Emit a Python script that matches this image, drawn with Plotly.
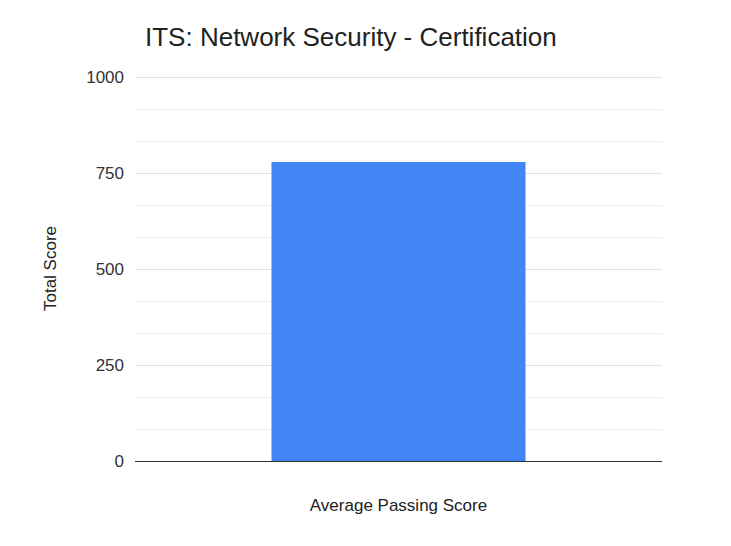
import plotly.graph_objects as go

categories = ["Average Passing Score"]
scores = [780]
y_ticks = [0, 250, 500, 750, 1000]

fig = go.Figure(go.Bar(x=categories, y=scores, marker=dict(color="#4285F4", line=dict(width=0))))

fig.update_layout(
    width=731, height=546,
    margin=dict(l=127, r=77, t=67.5, b=93, autoexpand=False),
    paper_bgcolor="white", plot_bgcolor="white",
    bargap=0.518,
    showlegend=False,
    font=dict(family="Liberation Sans, Arial, sans-serif", size=17, color="#444"),
    title=dict(text="ITS: Network Security - Certification", x=137/731, xanchor="left",
               y=1-29/546, yanchor="middle",
               font=dict(size=26, color="#222", family="Liberation Sans, Arial, sans-serif")),
)
fig.update_xaxes(showgrid=False, showline=False, ticks="", ticklabelstandoff=32,
                 tickfont=dict(size=17, color="#222"), automargin=False)
fig.update_yaxes(range=[0, 1004], tickvals=y_ticks, showgrid=True, gridcolor="#e2e2e2", gridwidth=1,
                 minor=dict(dtick=250/3, tick0=0, showgrid=True, gridcolor="#ececec", gridwidth=1),
                 zeroline=True, zerolinecolor="#333", zerolinewidth=1,
                 ticks="", ticklabelstandoff=10, tickfont=dict(size=17, color="#333"),
                 title=dict(text="Total Score", standoff=25, font=dict(size=17, color="#222")),
                 automargin=False)

fig.write_html("out.html")
